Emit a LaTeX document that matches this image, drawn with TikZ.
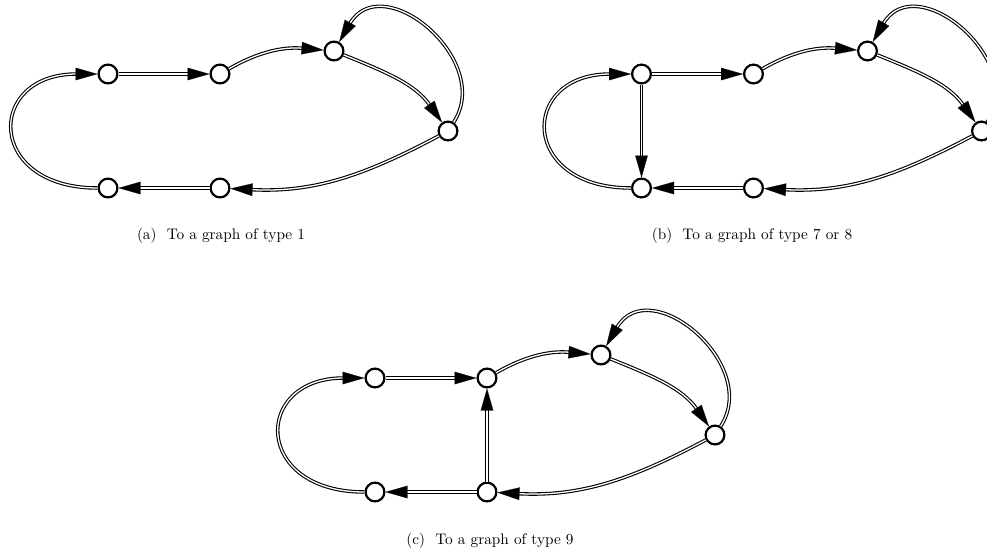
\documentclass[tikz,border=0pt]{standalone}
\usetikzlibrary{arrows.meta,calc}
\tikzset{
  vtx/.style={circle, draw, line width=2.2pt, minimum size=18.8pt, inner sep=0pt, fill=white},
  dbl/.style={draw, double=white, line width=1.1pt, double distance=1.3pt, shorten >=21pt},
  tipln/.style={draw=white, line width=0.2pt, -{Triangle[length=22pt,width=12.5pt,black]}},
  capt/.style={anchor=base, inner sep=0pt},
}
\newcommand\dedge[3]{\draw[dbl] #1 #2 #3; \draw[tipln] #1 #2 #3;}
\newcommand\graphsix[1]{%
  \node[vtx] (#11) at (108,-74) {};
  \node[vtx] (#12) at (220,-74) {};
  \node[vtx] (#13) at (334,-51) {};
  \node[vtx] (#14) at (448,-131) {};
  \node[vtx] (#15) at (220,-188) {};
  \node[vtx] (#16) at (108,-188) {};
  \dedge{(#11)}{--}{(#12)}
  \dedge{(#12)}{to[out=30,in=175]}{(#13)}
  \dedge{(#13)}{to[out=-22,in=125]}{(#14)}
  \dedge{(#14)}{to[out=57,in=60,out distance=74pt,in distance=86pt]}{(#13)}
  \dedge{(#14)}{to[out=-152,in=-3]}{(#15)}
  \dedge{(#15)}{--}{(#16)}
  \dedge{(#16)}{to[out=180,in=180,distance=112pt]}{(#11)}
}
\begin{document}
\begin{tikzpicture}[x=1pt,y=1pt]
\useasboundingbox (0,0) rectangle (987,-558);
\clip (0,0) rectangle (987,-558);
\begin{scope}
  \graphsix{a}
\end{scope}
\begin{scope}[xshift=533.5pt]
  \graphsix{b}
  \dedge{(b1)}{--}{(b6)}
\end{scope}
\begin{scope}[xshift=267pt,yshift=-304pt]
  \graphsix{c}
  \dedge{(c5)}{--}{(c2)}
\end{scope}
\node[capt] (capa) at (221,-239.7) {\scalebox{1.53}{(a)\hspace{0.67em}To a graph of type 1}};
\node[capt] (capb) at (752,-239.7) {\scalebox{1.53}{(b)\hspace{0.67em}To a graph of type 7 or 8}};
\node[capt] (capc) at (490,-544.3) {\scalebox{1.53}{(c)\hspace{0.67em}To a graph of type 9}};
\end{tikzpicture}
\end{document}
